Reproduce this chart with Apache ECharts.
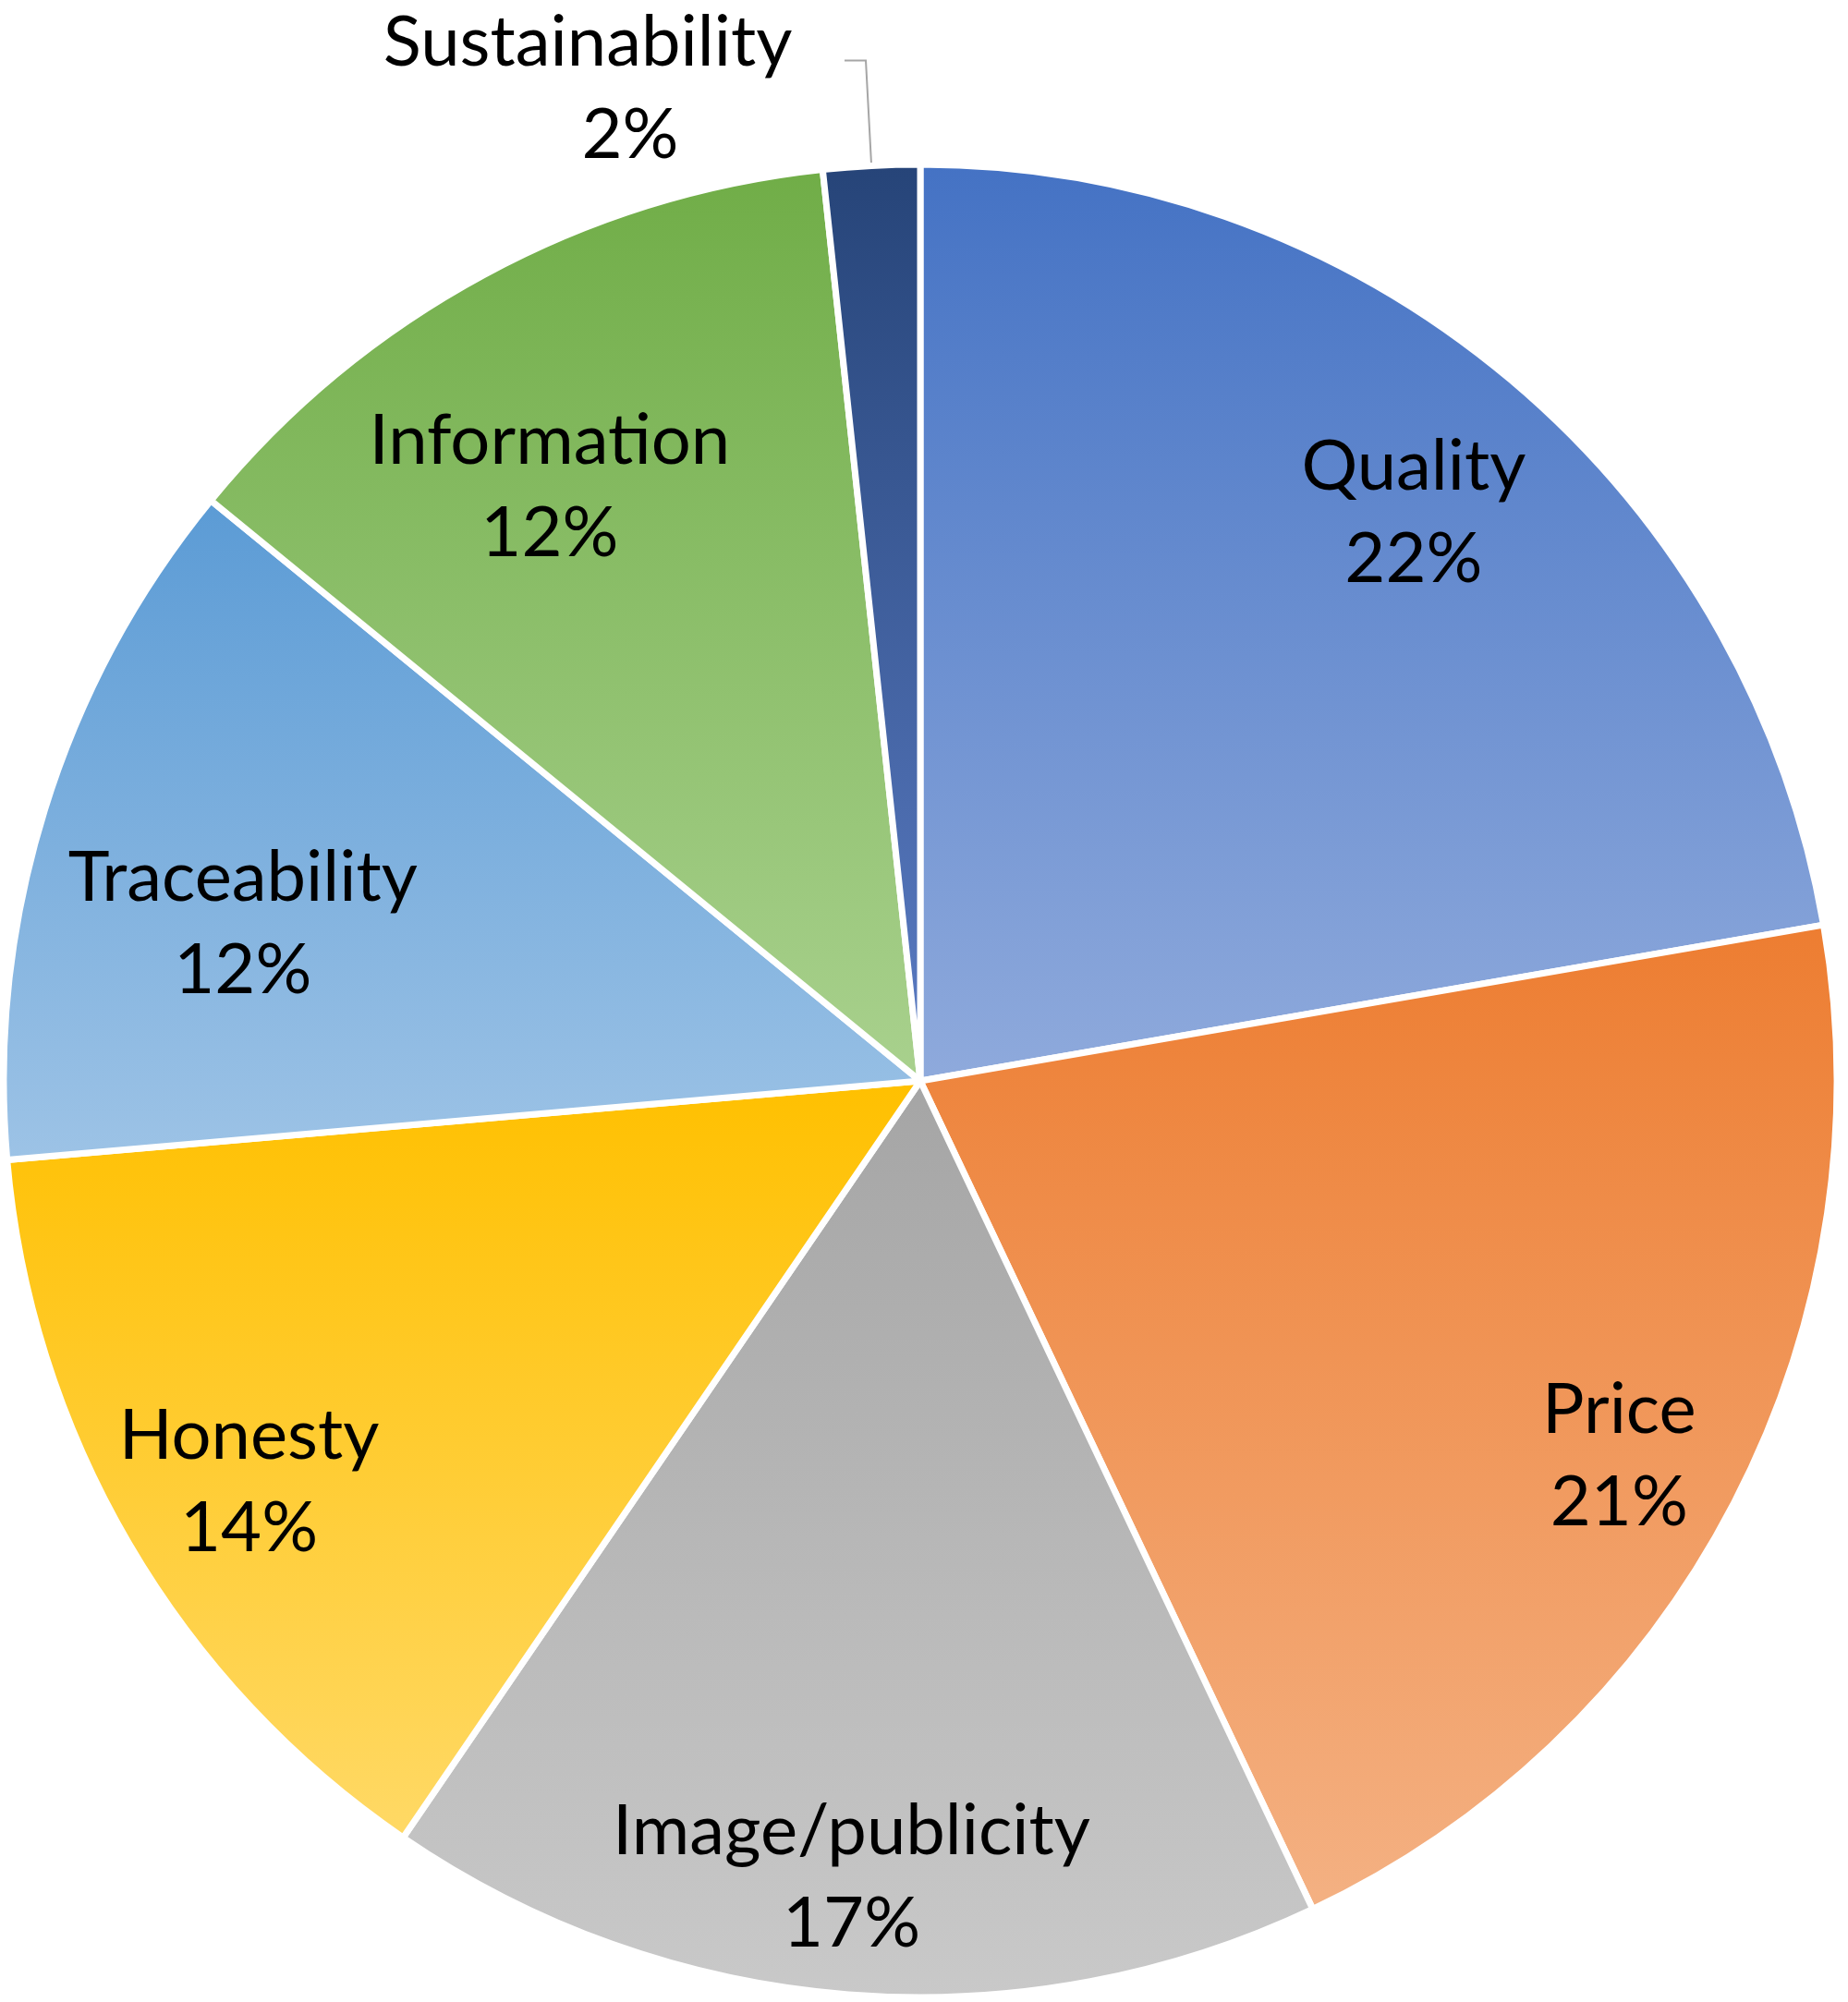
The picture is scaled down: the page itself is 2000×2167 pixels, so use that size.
<!DOCTYPE html>
<html>
<head>
<meta charset="utf-8">
<script src="https://cdn.jsdelivr.net/npm/echarts@6/dist/echarts.min.js"></script>
<style>html,body{margin:0;padding:0;background:#fff}#c{width:2000px;height:2167px}</style>
</head>
<body>
<div id="c"></div>
<script>
const categories = ['Quality', 'Price', 'Image/publicity', 'Honesty', 'Traceability', 'Information', 'Sustainability'];
const values = [22.3, 20.7, 16.6, 14.1, 12.3, 12.4, 1.7];
const topColors = ['#4472C4', '#ED7D31', '#A5A5A5', '#FFC000', '#5B9BD5', '#70AD47', '#264478'];
const bottomColors = ['#8FAADC', '#F4B183', '#C9C9C9', '#FFD966', '#9DC3E6', '#A9D18E', '#5B7CC4'];

const CENTER = [996, 1170];
const R = 992;
const FONT = 'Lato';
// small label nudges (px) to mimic the reference's best-fit label placement
const labelNudge = [[8, 10], [-8, 10], [-7, 4], [17, 0], [-10, 54], [-41, 23], [0, 0]];
const labelText = {
  color: '#000', fontFamily: FONT, fontSize: 76, lineHeight: 100
};
const fmt = p => p.name + '\n' + Math.round(p.percent) + '%';

function grad(i) {
  return new echarts.graphic.LinearGradient(0, 0, 0, 1, [
    { offset: 0, color: topColors[i] },
    { offset: 1, color: bottomColors[i] }
  ]);
}

const mainData = categories.map((c, i) => {
  const d = { name: c, value: values[i], itemStyle: { color: grad(i) } };
  if (c === 'Sustainability') {
    d.label = {
      show: true, position: 'outside',
      formatter: p => '{a|' + p.name + '}\n{b|' + Math.round(p.percent) + '%}',
      distanceToLabelLine: 51,
      padding: [62, 0, 0, 0],
      rich: {
        a: Object.assign({ width: 450, align: 'center' }, labelText),
        b: Object.assign({ width: 362, align: 'center', padding: [0, 0, 0, 92] }, labelText)
      }
    };
    d.labelLine = { show: true, length: 114, length2: 23, lineStyle: { color: '#A6A6A6', width: 2 } };
  }
  return d;
});

function overlay(innerFrac, shown) {
  return {
    type: 'pie', center: CENTER, radius: [R * innerFrac, R],
    silent: true, animation: false, avoidLabelOverlap: false,
    itemStyle: { color: 'rgba(0,0,0,0)', borderWidth: 0 },
    labelLine: { show: false },
    label: Object.assign({ show: true, position: 'inside', formatter: fmt }, labelText),
    labelLayout: p => {
      const o = labelNudge[p.dataIndex] || [0, 0];
      return { dx: o[0], dy: o[1] };
    },
    data: categories.map((c, i) => ({
      name: c, value: values[i],
      label: { show: shown.indexOf(c) >= 0 }
    }))
  };
}

const chart = echarts.init(document.getElementById('c'));
chart.setOption({
  animation: false,
  series: [
    {
      type: 'pie', center: CENTER, radius: [0, R],
      startAngle: 90, clockwise: true,
      avoidLabelOverlap: false,
      itemStyle: { borderColor: '#fff', borderWidth: 7 },
      label: { show: false },
      labelLine: { show: false },
      emphasis: { disabled: true },
      data: mainData
    },
    overlay(0.52, ['Traceability', 'Information']),
    overlay(0.64, ['Quality']),
    overlay(0.73, ['Price', 'Image/publicity', 'Honesty'])
  ]
});
</script>
</body>
</html>
